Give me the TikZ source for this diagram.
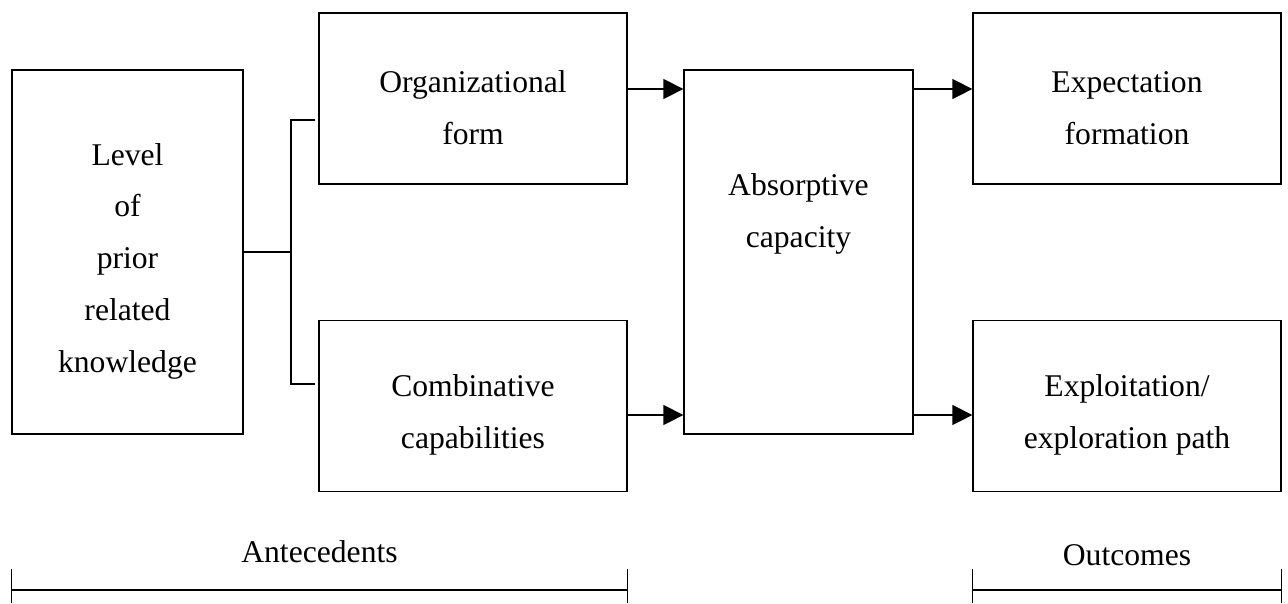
\documentclass[tikz,border=0pt]{standalone}
\usepackage{fontspec}
\setmainfont{Liberation Serif}
\usetikzlibrary{arrows.meta,positioning,calc}
\newcommand{\topgap}{\rule{0pt}{23pt}}

\begin{document}
\begin{tikzpicture}[x=0.02cm, y=-0.02cm, line width=0.75pt,
  font=\fontsize{18}{29.5}\selectfont,
  box/.style={draw, align=center, inner sep=0pt},
  sidebox/.style={box, minimum width=6.16cm, minimum height=3.42cm},
  tallbox/.style={box, minimum height=7.28cm},
  flow/.style={-{Triangle[length=0.4cm, width=0.4cm]}}]
  \useasboundingbox (0,0) rectangle (1288,603);

  % antecedent and outcome boxes
  \node[tallbox, minimum width=4.62cm] (lvl) at (127.5,252) {\topgap Level\\of\\prior\\related\\knowledge};
  \foreach \name/\x/\y/\txt in {org/473/98.5/{Organizational\\form}, comb/473/406/{Combinative\\capabilities}, expt/1127/98.5/{Expectation\\formation}, expl/1127/406/{Exploitation/\\exploration path}}{
    \node[sidebox] (\name) at (\x,\y) {\topgap\txt};
  }
  \node[tallbox, minimum width=4.58cm] (abs) at (798.5,252) {};
  \node[align=center] (abslbl) at ([yshift=0.76cm]abs.center) {Absorptive\\capacity};

  % fork from prior knowledge
  \coordinate (fork) at (291,252);
  \draw (lvl.east) -- (fork);
  \draw ([xshift=-0.06cm]org.west |- 0,120) -| (fork) |- ([xshift=-0.06cm]comb.west |- 0,384);

  % arrows
  \draw[flow] (org.east |- 0,89) -- (abs.west |- 0,89);
  \draw[flow] (comb.east |- 0,415) -- (abs.west |- 0,415);
  \draw[flow] (abs.east |- 0,89) -- (expt.west |- 0,89);
  \draw[flow] (abs.east |- 0,415) -- (expl.west |- 0,415);

  % spans
  \node (ante) at (319.5,552) {Antecedents};
  \node (outc) at (1127,555) {Outcomes};
  \draw (lvl.west |- 0,590) -- (org.east |- 0,590);
  \draw (expt.west |- 0,590) -- (expt.east |- 0,590);
  \foreach \n/\a in {lvl/west, org/east, expt/west, expt/east}{
    \draw (\n.\a |- 0,569) -- (\n.\a |- 0,603);
  }
\end{tikzpicture}
\end{document}
